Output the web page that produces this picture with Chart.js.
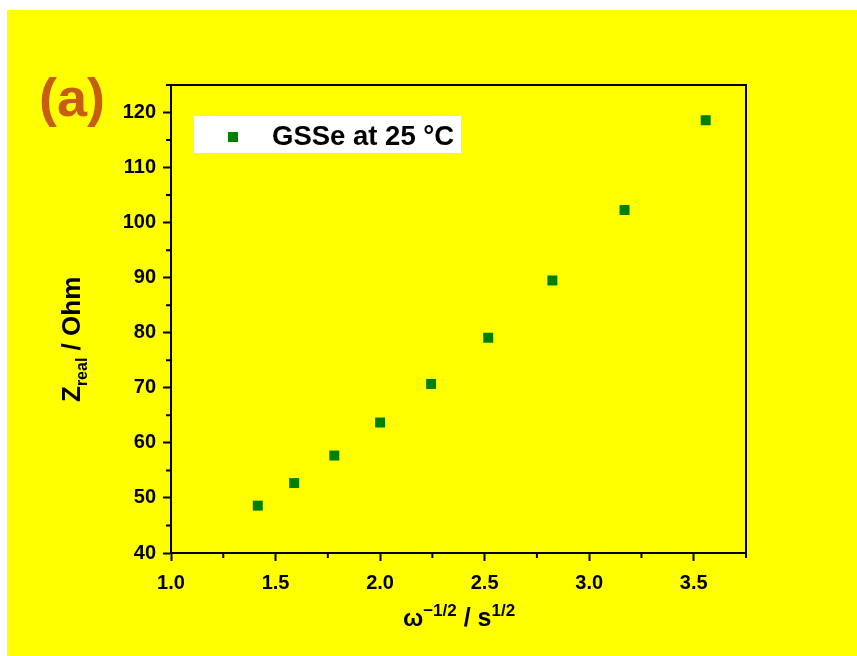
<!DOCTYPE html>
<html>
<head>
<meta charset="utf-8">
<script src="https://cdn.jsdelivr.net/npm/chart.js@4.4.1/dist/chart.umd.min.js"></script>
<style>
  html, body { margin: 0; padding: 0; background: #fff; overflow: hidden; }
  #wrap { width: 857px; height: 656px; }
</style>
</head>
<body>
<div id="wrap"><canvas id="zChart" width="857" height="656"></canvas></div>
<script>
// data
const omegaInvSqrt = [1.415, 1.589, 1.781, 2.0, 2.244, 2.517, 2.824, 3.169, 3.557];
const zReal = [48.6, 52.7, 57.7, 63.7, 70.7, 79.1, 89.5, 102.3, 118.6];
const seriesLabel = 'GSSe at 25 °C';
const xRange = [1.0, 3.75];
const yRange = [40, 125];
const xStep = 0.5;
const yStep = 10;

const FONT = '"Liberation Sans", Arial, sans-serif';
const GREEN = '#008000';

// draw text made of pieces (normal / sup / sub) one after another
function drawParts(ctx, parts, x, y) {
    let cx = x;
    parts.forEach(p => {
        ctx.font = 'bold ' + p.size + 'px ' + FONT;
        ctx.fillText(p.t, cx, y + (p.dy || 0));
        cx += ctx.measureText(p.t).width;
    });
    return cx - x;
}
function partsWidth(ctx, parts) {
    let w = 0;
    parts.forEach(p => {
        ctx.font = 'bold ' + p.size + 'px ' + FONT;
        w += ctx.measureText(p.t).width;
    });
    return w;
}

const decor = {
    id: 'decor',
    beforeDraw(chart) {
        const ctx = chart.ctx;
        ctx.save();
        ctx.fillStyle = '#ffffff';
        ctx.fillRect(0, 0, chart.width, chart.height);
        ctx.fillStyle = '#ffff00';
        ctx.fillRect(7, 10, chart.width - 7, chart.height - 10);
        ctx.restore();
    },
    afterDraw(chart) {
        const ctx = chart.ctx;
        const a = chart.chartArea;
        const xs = chart.scales.x, ys = chart.scales.y;
        ctx.save();
        ctx.strokeStyle = '#000';
        ctx.lineWidth = 2;
        // frame
        ctx.strokeRect(a.left, a.top, a.right - a.left, a.bottom - a.top);
        // minor ticks
        ctx.beginPath();
        for (let v = xRange[0] + xStep / 2; v <= xRange[1] + 1e-9; v += xStep) {
            const px = xs.getPixelForValue(v);
            ctx.moveTo(px, a.bottom);
            ctx.lineTo(px, a.bottom + 5);
        }
        for (let v = yRange[0] + yStep / 2; v <= yRange[1] + 1e-9; v += yStep) {
            const py = ys.getPixelForValue(v);
            ctx.moveTo(a.left, py);
            ctx.lineTo(a.left - 5, py);
        }
        ctx.stroke();

        // legend
        ctx.fillStyle = '#ffffff';
        ctx.fillRect(194, 116, 267, 37);
        ctx.fillStyle = GREEN;
        ctx.fillRect(228, 132, 10, 10);
        ctx.fillStyle = '#000';
        ctx.textBaseline = 'alphabetic';
        ctx.textAlign = 'left';
        ctx.font = 'bold 27.5px ' + FONT;
        ctx.fillText(seriesLabel, 272, 145);

        // panel label
        ctx.fillStyle = '#c65d11';
        ctx.font = 'bold 54px ' + FONT;
        ctx.fillText('(a)', 39, 116);

        // x title
        ctx.fillStyle = '#000';
        const xParts = [
            { t: 'ω', size: 24 },
            { t: '−1/2', size: 17, dy: -10 },
            { t: ' / s', size: 25 },
            { t: '1/2', size: 17, dy: -10 }
        ];
        const xw = partsWidth(ctx, xParts);
        drawParts(ctx, xParts, 459 - xw / 2, 626);

        // y title
        ctx.translate(80, 402);
        ctx.rotate(-Math.PI / 2);
        const yParts = [
            { t: 'Z', size: 26 },
            { t: 'real', size: 16, dy: 7 },
            { t: ' / Ohm', size: 26 }
        ];
        drawParts(ctx, yParts, 0, 0);
        ctx.restore();
    }
};

function initChart() {
    const ctx = document.getElementById('zChart').getContext('2d');
    new Chart(ctx, {
        type: 'scatter',
        data: {
            datasets: [{
                label: seriesLabel,
                data: omegaInvSqrt.map((x, i) => ({ x: x, y: zReal[i] })),
                pointStyle: 'rect',
                pointRadius: 7.07,
                pointHoverRadius: 7.07,
                pointBorderWidth: 0,
                backgroundColor: GREEN,
                borderColor: GREEN
            }]
        },
        options: {
            responsive: false,
            animation: false,
            events: [],
            layout: { padding: { top: 85, right: 111, left: 0, bottom: 0 } },
            plugins: {
                legend: { display: false },
                tooltip: { enabled: false }
            },
            scales: {
                x: {
                    type: 'linear',
                    min: xRange[0],
                    max: xRange[1],
                    afterFit(s) { s.height = 103; },
                    border: { display: true, color: '#000', width: 2 },
                    grid: { display: true, drawOnChartArea: false, drawTicks: true, tickLength: 8, tickWidth: 2, tickColor: '#000' },
                    ticks: {
                        stepSize: xStep,
                        includeBounds: false,
                        padding: 10,
                        color: '#000',
                        font: { family: FONT, size: 20, weight: 'bold' },
                        callback: v => v.toFixed(1)
                    }
                },
                y: {
                    type: 'linear',
                    min: yRange[0],
                    max: yRange[1],
                    afterFit(s) { s.width = 171; },
                    border: { display: true, color: '#000', width: 2 },
                    grid: { display: true, drawOnChartArea: false, drawTicks: true, tickLength: 8, tickWidth: 2, tickColor: '#000' },
                    ticks: {
                        stepSize: yStep,
                        includeBounds: false,
                        padding: 7,
                        color: '#000',
                        font: { family: FONT, size: 20, weight: 'bold' }
                    }
                }
            }
        },
        plugins: [decor]
    });
}

window.onload = initChart;
</script>
</body>
</html>
